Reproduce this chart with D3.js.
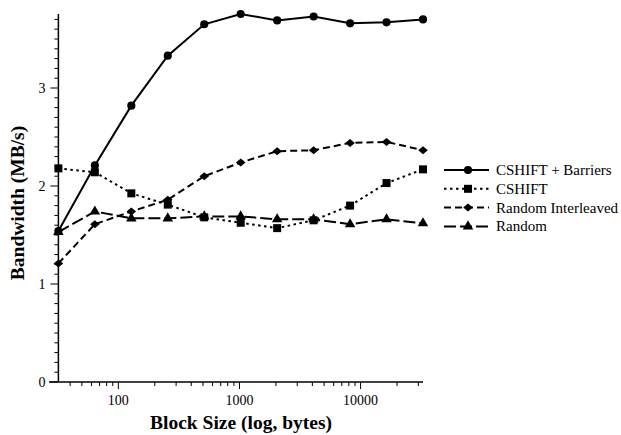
<!DOCTYPE html>
<html lang="en">
<head>
    <meta charset="UTF-8">
    <title>Bandwidth vs Block Size</title>
    <script src="https://d3js.org/d3.v7.min.js"></script>
    <style>
        body { margin: 0; background: #fff; }
        svg { display: block; }
        svg text { font-family: "Liberation Serif", "DejaVu Serif", serif; fill: #000; }
        .tick-label { font-size: 14px; }
        .axis-title { font-size: 19.5px; font-weight: bold; }
        .legend-label { font-size: 15px; }
    </style>
</head>
<body>
    <svg width="621" height="435"></svg>

    <script>
        // Data
        const blockSizes = [32, 64, 128, 256, 512, 1024, 2048, 4096, 8192, 16384, 32768];
        const cshiftBarriers = [1.54, 2.21, 2.82, 3.33, 3.65, 3.755, 3.69, 3.73, 3.66, 3.67, 3.70];
        const cshift = [2.18, 2.14, 1.925, 1.81, 1.68, 1.625, 1.57, 1.65, 1.80, 2.03, 2.17];
        const randomInterleaved = [1.21, 1.61, 1.74, 1.86, 2.10, 2.24, 2.355, 2.365, 2.44, 2.45, 2.365];
        const random = [1.53, 1.74, 1.67, 1.67, 1.69, 1.69, 1.66, 1.66, 1.61, 1.66, 1.62];

        const seriesNames = ["CSHIFT + Barriers", "CSHIFT", "Random Interleaved", "Random"];
        const yTickLabels = [0, 1, 2, 3];
        const xTickLabels = [100, 1000, 10000];

        const series = [
            { name: seriesNames[0], values: cshiftBarriers, dash: null, marker: "circle" },
            { name: seriesNames[1], values: cshift, dash: "2.5,3.5", marker: "square" },
            { name: seriesNames[2], values: randomInterleaved, dash: "7,4", marker: "diamond" },
            { name: seriesNames[3], values: random, dash: "12,4", marker: "triangle" }
        ];

        const svg = d3.select('svg');

        const x = d3.scaleLog().domain([32, 32768]).range([58.4, 423]);
        const y = d3.scaleLinear().domain([0, 1]).range([382, 284]);

        const yMax = d3.max(cshiftBarriers);

        // X axis
        const minorX = [];
        [10, 100, 1000, 10000].forEach(dec => {
            for (let k = 2; k <= 9; k++) {
                const v = dec * k;
                if (v >= 32 && v <= 32768 && !xTickLabels.includes(v)) minorX.push(v);
            }
        });

        const xAxisG = svg.append('g').attr('transform', `translate(0,${y(0)})`);
        xAxisG.append('line')
            .attr('x1', 49).attr('x2', x(32768))
            .attr('stroke', '#000').attr('stroke-width', 1.5);
        xAxisG.selectAll('.minor-x').data(minorX).enter().append('line')
            .attr('x1', d => x(d)).attr('x2', d => x(d))
            .attr('y1', 0).attr('y2', 4)
            .attr('stroke', '#000').attr('stroke-width', 1);
        xAxisG.selectAll('.major-x').data(xTickLabels).enter().append('line')
            .attr('x1', d => x(d)).attr('x2', d => x(d))
            .attr('y1', 0).attr('y2', 7)
            .attr('stroke', '#000').attr('stroke-width', 1);
        xAxisG.selectAll('.xlab').data(xTickLabels).enter().append('text')
            .attr('class', 'tick-label')
            .attr('x', d => x(d)).attr('y', 23)
            .attr('text-anchor', 'middle')
            .text(d => d);

        // Y axis
        const minorY = d3.range(1, 38).map(i => i / 10).filter(v => Math.abs(v - Math.round(v)) > 1e-6);
        const yAxisG = svg.append('g').attr('transform', `translate(${x(32)},0)`);
        yAxisG.append('line')
            .attr('y1', y(0)).attr('y2', y(yMax))
            .attr('stroke', '#000').attr('stroke-width', 1.5);
        yAxisG.selectAll('.minor-y').data(minorY).enter().append('line')
            .attr('x1', -4).attr('x2', 0)
            .attr('y1', d => y(d)).attr('y2', d => y(d))
            .attr('stroke', '#000').attr('stroke-width', 1);
        yAxisG.selectAll('.major-y').data(yTickLabels).enter().append('line')
            .attr('x1', -8).attr('x2', 0)
            .attr('y1', d => y(d)).attr('y2', d => y(d))
            .attr('stroke', '#000').attr('stroke-width', 1);
        yAxisG.selectAll('.ylab').data(yTickLabels).enter().append('text')
            .attr('class', 'tick-label')
            .attr('x', -13).attr('y', d => y(d) + 4.5)
            .attr('text-anchor', 'end')
            .text(d => d);

        // Axis titles
        svg.append('text')
            .attr('class', 'axis-title')
            .attr('transform', 'translate(24,203) rotate(-90)')
            .attr('text-anchor', 'middle')
            .text('Bandwidth (MB/s)');
        svg.append('text')
            .attr('class', 'axis-title')
            .attr('x', 241).attr('y', 429)
            .attr('text-anchor', 'middle')
            .text('Block Size (log, bytes)');

        // Marker shapes
        const diamondPath = 'M-4.8,0L0,-4L4.8,0L0,4Z';
        const symbolFor = {
            circle: d3.symbol().type(d3.symbolCircle).size(52),
            square: d3.symbol().type(d3.symbolSquare).size(64),
            diamond: () => diamondPath,
            triangle: d3.symbol().type(d3.symbolTriangle).size(48)
        };

        const line = d3.line()
            .x((d, i) => x(blockSizes[i]))
            .y(d => y(d));

        // Draw series (back to front)
        series.slice().reverse().forEach(s => {
            svg.append('path')
                .datum(s.values)
                .attr('d', line)
                .attr('fill', 'none')
                .attr('stroke', '#000')
                .attr('stroke-width', 2)
                .attr('stroke-dasharray', s.dash);
            svg.selectAll(null).data(s.values).enter().append('path')
                .attr('d', symbolFor[s.marker])
                .attr('transform', (d, i) => `translate(${x(blockSizes[i])},${y(d)})`)
                .attr('fill', '#000');
        });

        // Legend
        const legend = svg.append('g').attr('transform', 'translate(444,170)');
        series.forEach((s, i) => {
            const g = legend.append('g').attr('transform', `translate(0,${i * 18.8})`);
            g.append('line')
                .attr('x1', 0).attr('x2', 45)
                .attr('stroke', '#000').attr('stroke-width', 2)
                .attr('stroke-dasharray', s.dash);
            g.append('path')
                .attr('d', symbolFor[s.marker])
                .attr('transform', 'translate(24,0)')
                .attr('fill', '#000');
            g.append('text')
                .attr('class', 'legend-label')
                .attr('x', 52).attr('y', 5)
                .text(s.name);
        });
    </script>
</body>
</html>
